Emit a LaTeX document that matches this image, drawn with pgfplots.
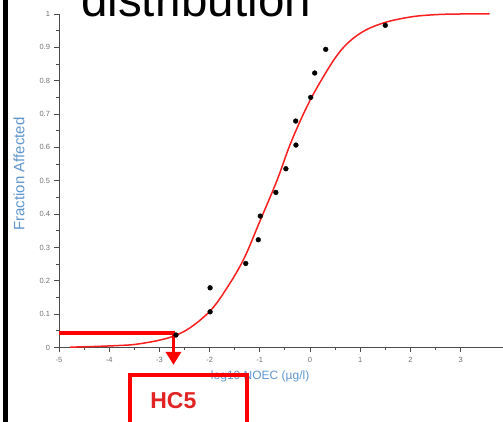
\documentclass[border=0pt]{standalone}
\usepackage{fontspec}
\setmainfont{Liberation Sans}
\usepackage{pgfplots}
\pgfplotsset{compat=1.18}
\usetikzlibrary{arrows.meta}
\definecolor{lblue}{RGB}{95,150,205}
\definecolor{hcred}{RGB}{255,0,0}
\definecolor{txtred}{RGB}{225,35,35}
\definecolor{curvered}{RGB}{250,30,30}
\begin{document}
\begin{tikzpicture}
\path[use as bounding box] (0bp,0bp) rectangle (503bp,422bp);
\clip (0bp,0bp) rectangle (503bp,422bp);
\fill[black] (3.3bp,0bp) rectangle (8.3bp,422bp);
\node[anchor=base west, inner sep=0pt, font=\fontsize{47.5bp}{50bp}\selectfont] at (81bp,405.3bp) {distribution};
\begin{axis}[
  at={(59bp,74.5bp)}, anchor=south west,
  scale only axis, width=444bp, height=333.5bp,
  xmin=-5, xmax=3.845, ymin=0, ymax=1,
  clip=false,
  axis x line=bottom, axis y line=left,
  axis line style={-, draw=black!70, line width=0.9bp},
  xtick={-5,-4,-3,-2,-1,0,1,2,3},
  xticklabels={-5,-4,-3,-2,-1,0,1,2,3},
  ytick={0,0.1,0.2,0.3,0.4,0.5,0.6,0.7,0.8,0.9,1},
  yticklabels={0,0.1,0.2,0.3,0.4,0.5,0.6,0.7,0.8,0.9,1},
  minor x tick num=1, minor y tick num=1,
  tick align=outside, major tick length=4.5bp, minor tick length=2.5bp,
  tick style={black!70, line width=0.9bp},
  ticklabel style={font=\fontsize{7.5bp}{8bp}\selectfont, text=black!55},
  xticklabel style={yshift=-1.5bp},
  yticklabel style={xshift=-1bp},
  xlabel={log10 NOEC (µg/l)}, ylabel={Fraction Affected},
  xlabel style={at={(axis description cs:0.453,-0.088)}, anchor=center, font=\fontsize{12bp}{14bp}\selectfont, text=lblue},
  ylabel style={at={(axis description cs:-0.09,0.52)}, anchor=center, font=\fontsize{15bp}{17bp}\selectfont, text=lblue},
]
\addplot[curvered, line width=1.5bp, smooth, tension=0.6] coordinates {
(-4.78,0.001) (-4.3,0.003) (-3.8,0.006) (-3.5,0.009) (-3.2,0.016) (-3.0,0.022)
(-2.72,0.034) (-2.4,0.058) (-2.0,0.108) (-1.7,0.168) (-1.33,0.262) (-1.0,0.378)
(-0.66,0.50) (-0.4,0.607) (-0.1,0.71) (0.2,0.795) (0.6,0.888) (1.0,0.942)
(1.46,0.973) (2.0,0.991) (2.5,0.998) (3.0,1.0) (3.58,1.0)
};
\draw[hcred, line width=3.5bp, line join=miter, -{Triangle[width=15bp,length=13bp]}]
  (axis cs:-5,0.0435) -- (axis cs:-2.72,0.0435) -- (axis cs:-2.72,-0.052);
\addplot[only marks, mark=*, mark size=2.4bp, black] coordinates {
(-2.67,0.0375) (-1.99,0.107) (-1.99,0.179) (-1.28,0.252) (-1.03,0.323)
(-0.99,0.394) (-0.68,0.465) (-0.48,0.536) (-0.28,0.607) (-0.285,0.679)
(0.014,0.750) (0.094,0.823) (0.313,0.894) (1.50,0.966)
};
\end{axis}
\draw[hcred, line width=4bp] (130.3bp,-10bp) -- (130.3bp,46.7bp) -- (247bp,46.7bp) -- (247bp,-10bp);
\node[anchor=base, inner sep=0pt, text=txtred, font=\bfseries\fontsize{23bp}{25bp}\selectfont] at (173.3bp,13.7bp) {HC5};
\end{tikzpicture}
\end{document}
